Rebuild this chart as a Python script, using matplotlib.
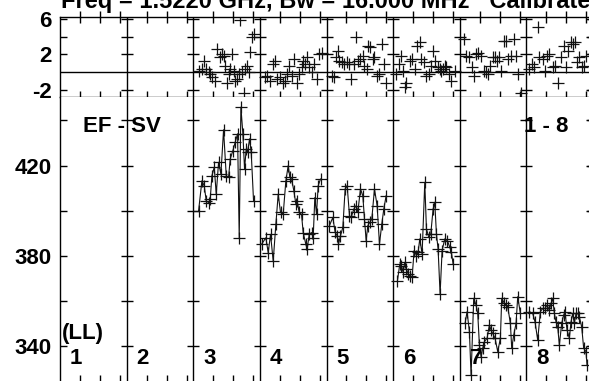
import numpy as np
import matplotlib.pyplot as plt

plt.rcParams['font.family'] = ['Liberation Sans', 'DejaVu Sans']
plt.rcParams['font.weight'] = 'bold'

title = 'Freq = 1.5220 GHz, Bw = 16.000 MHz   Calibrated'
ant_labels = ['1', '2', '3', '4', '5', '6', '7', '8']
baseline_label = 'EF - SV'
range_label = '1 - 8'
pol_label = '(LL)'

# time within each antenna box (percent of box width) and amplitudes, lower panel
t3_amp = [8, 13, 16.5, 19.5, 23, 25.5, 28, 31.5, 34.5, 38, 41.5, 45.5, 49.5, 53,
          55.5, 59.5, 63, 66.5, 69, 71.5, 74.5, 77, 79.5, 81.5, 84.5, 87, 90.5]
amp3 = [400.0, 413.3, 411.1, 404.4, 403.7, 405.2, 415.6, 419.3, 407.4, 421.5,
        416.3, 435.9, 415.6, 414.8, 423.0, 426.7, 430.4, 434.1, 388.1, 445.9,
        434.1, 418.5, 427.4, 425.9, 431.9, 425.9, 404.4]
t4_amp = [2.5, 9, 12.5, 16, 20, 24, 27.5, 31, 35, 39, 42.5, 45, 47.5, 51, 54, 56,
          59, 62.5, 65, 69, 71, 74, 77.5, 80, 82.5, 85, 87.5, 91]
amp4 = [385.2, 388.1, 381.5, 389.6, 377.8, 394.1, 407.4, 399.3, 398.5, 413.3,
        420.0, 414.8, 414.1, 408.9, 403.0, 404.4, 399.3, 398.5, 390.4, 385.2,
        383.0, 389.6, 390.4, 388.1, 405.9, 398.5, 411.1, 414.1]
t5_amp = [4.5, 9.5, 13, 16, 18, 21, 24.5, 28, 31, 34.5, 37, 41, 44.5, 47, 51, 54.5,
          57, 59.5, 62, 65, 68, 72, 76, 79.5, 83, 86, 89.5]
amp5 = [393.5, 397.1, 390.5, 389.0, 385.3, 389.0, 392.7, 409.7, 411.2, 397.9,
        397.1, 400.8, 402.3, 399.4, 409.7, 406.7, 396.4, 386.8, 393.5, 394.9,
        396.4, 409.7, 402.3, 385.3, 394.2, 400.8, 406.7]
t6_amp = [6.5, 10, 12.5, 15, 17.5, 20, 22.5, 25, 28.5, 31.5, 35, 37.5, 40, 43.5,
          47.5, 50, 53.5, 56.5, 60, 62.5, 65, 67.5, 70.5, 73.5, 77.5, 81.5, 85,
          87.5, 90]
amp6 = [369.1, 376.5, 375.8, 372.8, 377.2, 374.3, 372.1, 371.3, 370.6, 382.4,
        380.2, 381.7, 387.6, 380.9, 412.6, 392.0, 388.3, 389.8, 400.8, 403.8,
        389.8, 383.1, 363.2, 382.4, 387.6, 386.8, 383.9, 381.7, 376.5]
t7_amp = [8, 11, 14.5, 17, 21, 24.5, 27, 29.5, 32, 34.5, 37, 41, 44.5, 47, 49.5,
          53, 57, 61, 63, 67, 69.5, 72, 76, 78, 81, 84.5, 87, 91]
amp7 = [350.2, 355.4, 346.5, 327.3, 361.3, 358.3, 354.6, 340.6, 335.4, 339.2,
        342.1, 343.6, 349.5, 347.3, 345.8, 343.6, 337.7, 343.6, 361.3, 359.1,
        358.3, 357.6, 350.2, 339.2, 345.0, 350.2, 362.0, 354.6]
t8_amp = [4.5, 9.5, 13, 17, 21, 24.5, 28, 31, 34.5, 37, 39.5, 42, 44.5, 47, 49.5,
          53, 56, 58, 61, 64.5, 67, 69.5, 72, 74.5, 77, 79.5, 83, 86, 89.5, 91]
amp8 = [355.4, 354.6, 350.9, 342.8, 355.4, 356.8, 356.8, 358.3, 356.1, 359.1,
        361.3, 354.6, 350.9, 348.7, 340.6, 350.2, 353.9, 355.4, 347.3, 343.6,
        350.9, 354.6, 350.2, 354.6, 354.6, 353.1, 348.7, 339.2, 337.7, 331.8]

# upper panel (scatter only)
t3_top = [8, 13, 15.5, 19.5, 23, 25.5, 28, 33, 35.5, 40.5, 43, 45.5, 48, 50.5, 53,
          55.5, 58, 60.5, 63, 65.5, 68, 70.5, 73, 75.5, 78, 80.5, 83, 85.5, 88, 90.5]
top3 = [0.15, 0.34, 1.28, 0.34, -0.04, -0.23, -0.6, -0.98, 2.6, 1.66, 2.03, 1.85,
        0.72, -1.17, -0.23, 0.34, 2.03, 0.15, -0.98, -0.79, -0.23, 5.88, -0.04,
        -2.3, 0.34, 0.72, -0.04, 2.22, 3.92, 4.29]
t4_top = [7.5, 11, 15, 19, 22.5, 26, 30, 34, 37.5, 40, 44, 47.5, 51, 55, 59, 62.5,
          65, 67.5, 70, 74, 77.5, 81, 85, 89, 93]
top4 = [-0.6, -0.41, -0.98, 0.9, 1.28, -0.79, -0.6, -1.17, -0.98, -0.23, 0.72,
        -0.41, 1.47, -1.17, -0.23, 0.53, 1.28, 0.9, 1.66, 0.53, -0.04, 0.9, -0.79,
        2.03, 2.1]
t5_top = [8, 11, 14.5, 17, 19.5, 23, 27, 31, 34.5, 37, 41, 44.5, 48, 51, 54.5, 57,
          61, 63, 65.5, 69.5, 72, 76, 79.5, 83, 86, 89.5]
top5 = [-0.41, -0.6, 1.66, 2.41, 1.28, 1.09, 0.9, 1.09, 0.9, -0.79, 0.9, 3.92,
        1.28, 1.47, 1.85, 0.72, 0.34, 2.97, 2.79, 1.47, 1.66, -0.41, -0.23, 3.16,
        0.9, -1.17]
t6_top = [5, 8.5, 11.5, 15, 17.5, 20, 25, 28.5, 32.5, 36.5, 40, 42.5, 46.5, 50,
          53.5, 57.5, 60, 62.5, 67.5, 70, 72.5, 75, 77.5, 80, 83.5, 87.5, 92.5]
top6 = [-0.23, 0.9, 1.85, 0.15, -1.73, -1.17, 1.28, 1.47, 0.34, 2.97, 3.35, 1.47,
        1.09, -0.41, -0.23, 0.72, 2.41, 1.28, 0.53, 0.34, 0.15, 0.34, 0.72, 0.53,
        -0.23, -0.98, 0.15]
t7_top = [7, 9.5, 14.5, 18, 21, 24.5, 28, 32, 36, 39.5, 42, 46, 49.5, 53, 56,
          59.5, 62, 66, 69.5, 73, 77, 82, 84.5, 88, 92]
top7 = [3.73, 1.85, 1.66, 0.53, -0.41, 2.03, 2.1, 1.85, 0.15, -0.04, -0.23, 0.72,
        1.66, 1.66, 1.28, 1.66, 0.15, 3.54, 3.54, 1.47, 1.85, 3.73, 1.85, -0.23,
        -2.3]
t8_top = [4.5, 8, 12, 17, 19.5, 24.5, 28, 31, 34.5, 39.5, 43, 47, 52, 56.5, 60,
          62.5, 66.5, 70, 72.5, 76.5, 79.5, 83, 86, 89.5]
top8 = [0.34, 0.9, 0.53, 5.05, 1.66, 1.47, 0.15, 1.85, 2.03, 0.53, 0.72, -1.17,
        1.66, 2.97, 0.53, 2.41, 3.35, 3.16, 3.35, 1.09, 1.66, 0.53, 0.72, 1.85]

amp_series = [(3, t3_amp, amp3), (4, t4_amp, amp4), (5, t5_amp, amp5),
              (6, t6_amp, amp6), (7, t7_amp, amp7), (8, t8_amp, amp8)]
top_series = [(3, t3_top, top3), (4, t4_top, top4), (5, t5_top, top5),
              (6, t6_top, top6), (7, t7_top, top7), (8, t8_top, top8)]

top_yticks = [-2, 2, 4, 6]
top_ylabels = ['-2', '2', '', '6']
bot_yticks = [340, 360, 380, 400, 420, 440]
bot_ylabels = ['340', '', '380', '', '420', '']

W, H = 589, 381
fig = plt.figure(figsize=(W / 100, H / 100), dpi=100)
x0 = 60 / W
w = (593 - 60) / W
ax_top = fig.add_axes([x0, 1 - 97 / H, w, 80 / H])
ax_bot = fig.add_axes([x0, 0, w, 1 - 97 / H])

nant = len(ant_labels)
xt = [k + f for k in range(nant) for f in (0.3, 0.6, 0.9)]

for ax, yt, yl in ((ax_top, top_yticks, top_ylabels), (ax_bot, bot_yticks, bot_ylabels)):
    ax.set_xlim(0, nant)
    ax.set_xticks(xt)
    ax.set_xticklabels([])
    ax.set_yticks(yt)
    ax.set_yticklabels(yl)
    ax.tick_params(axis='y', direction='in', length=5, width=1, labelsize=16,
                   pad=6, right=True, colors='black')
    ax.tick_params(axis='x', direction='inout', length=8, width=1)
    for sp in ax.spines.values():
        sp.set_linewidth(1)
    for k in range(1, nant):
        ax.axvline(k, color='black', lw=1)
    # tick marks on each box separator
    sx = np.repeat(np.arange(1, nant + 1), len(yt))
    sy = np.tile(yt, nant)
    ax.plot(sx, sy, ls='none', marker='_', ms=8, mew=1, color='black')

ax_top.set_ylim(-2.8, 6.2)
ax_top.tick_params(axis='x', top=True)
ax_top.axhline(0, color='black', lw=1)
ax_bot.set_ylim(324.7, 450.4)
ax_bot.spines['top'].set_visible(False)
ax_bot.spines['bottom'].set_visible(False)

for ant, t, v in top_series:
    ax_top.plot(ant - 1 + np.array(t) / 100, v, ls='none', marker='+', ms=9,
                mew=0.9, color='#111111')

for ant, t, v in amp_series:
    ax_bot.plot(ant - 1 + np.array(t) / 100, v, lw=0.8, marker='+', ms=8.5,
                mew=0.9, color='#111111')

ax_bot.text(0.345, 434.9, baseline_label, fontsize=16, va='baseline')
ax_bot.text(6.97, 434.9, range_label, fontsize=16, va='baseline')
ax_bot.text(0.03, 343.2, pol_label, fontsize=16, va='baseline')
for k, lab in enumerate(ant_labels):
    ax_bot.text(k + 0.15, 332.2, lab, fontsize=16, va='baseline')

fig.text(61 / W, 1 - 8 / H, title, fontsize=17, va='baseline')

fig.savefig('out.png', dpi=100)
